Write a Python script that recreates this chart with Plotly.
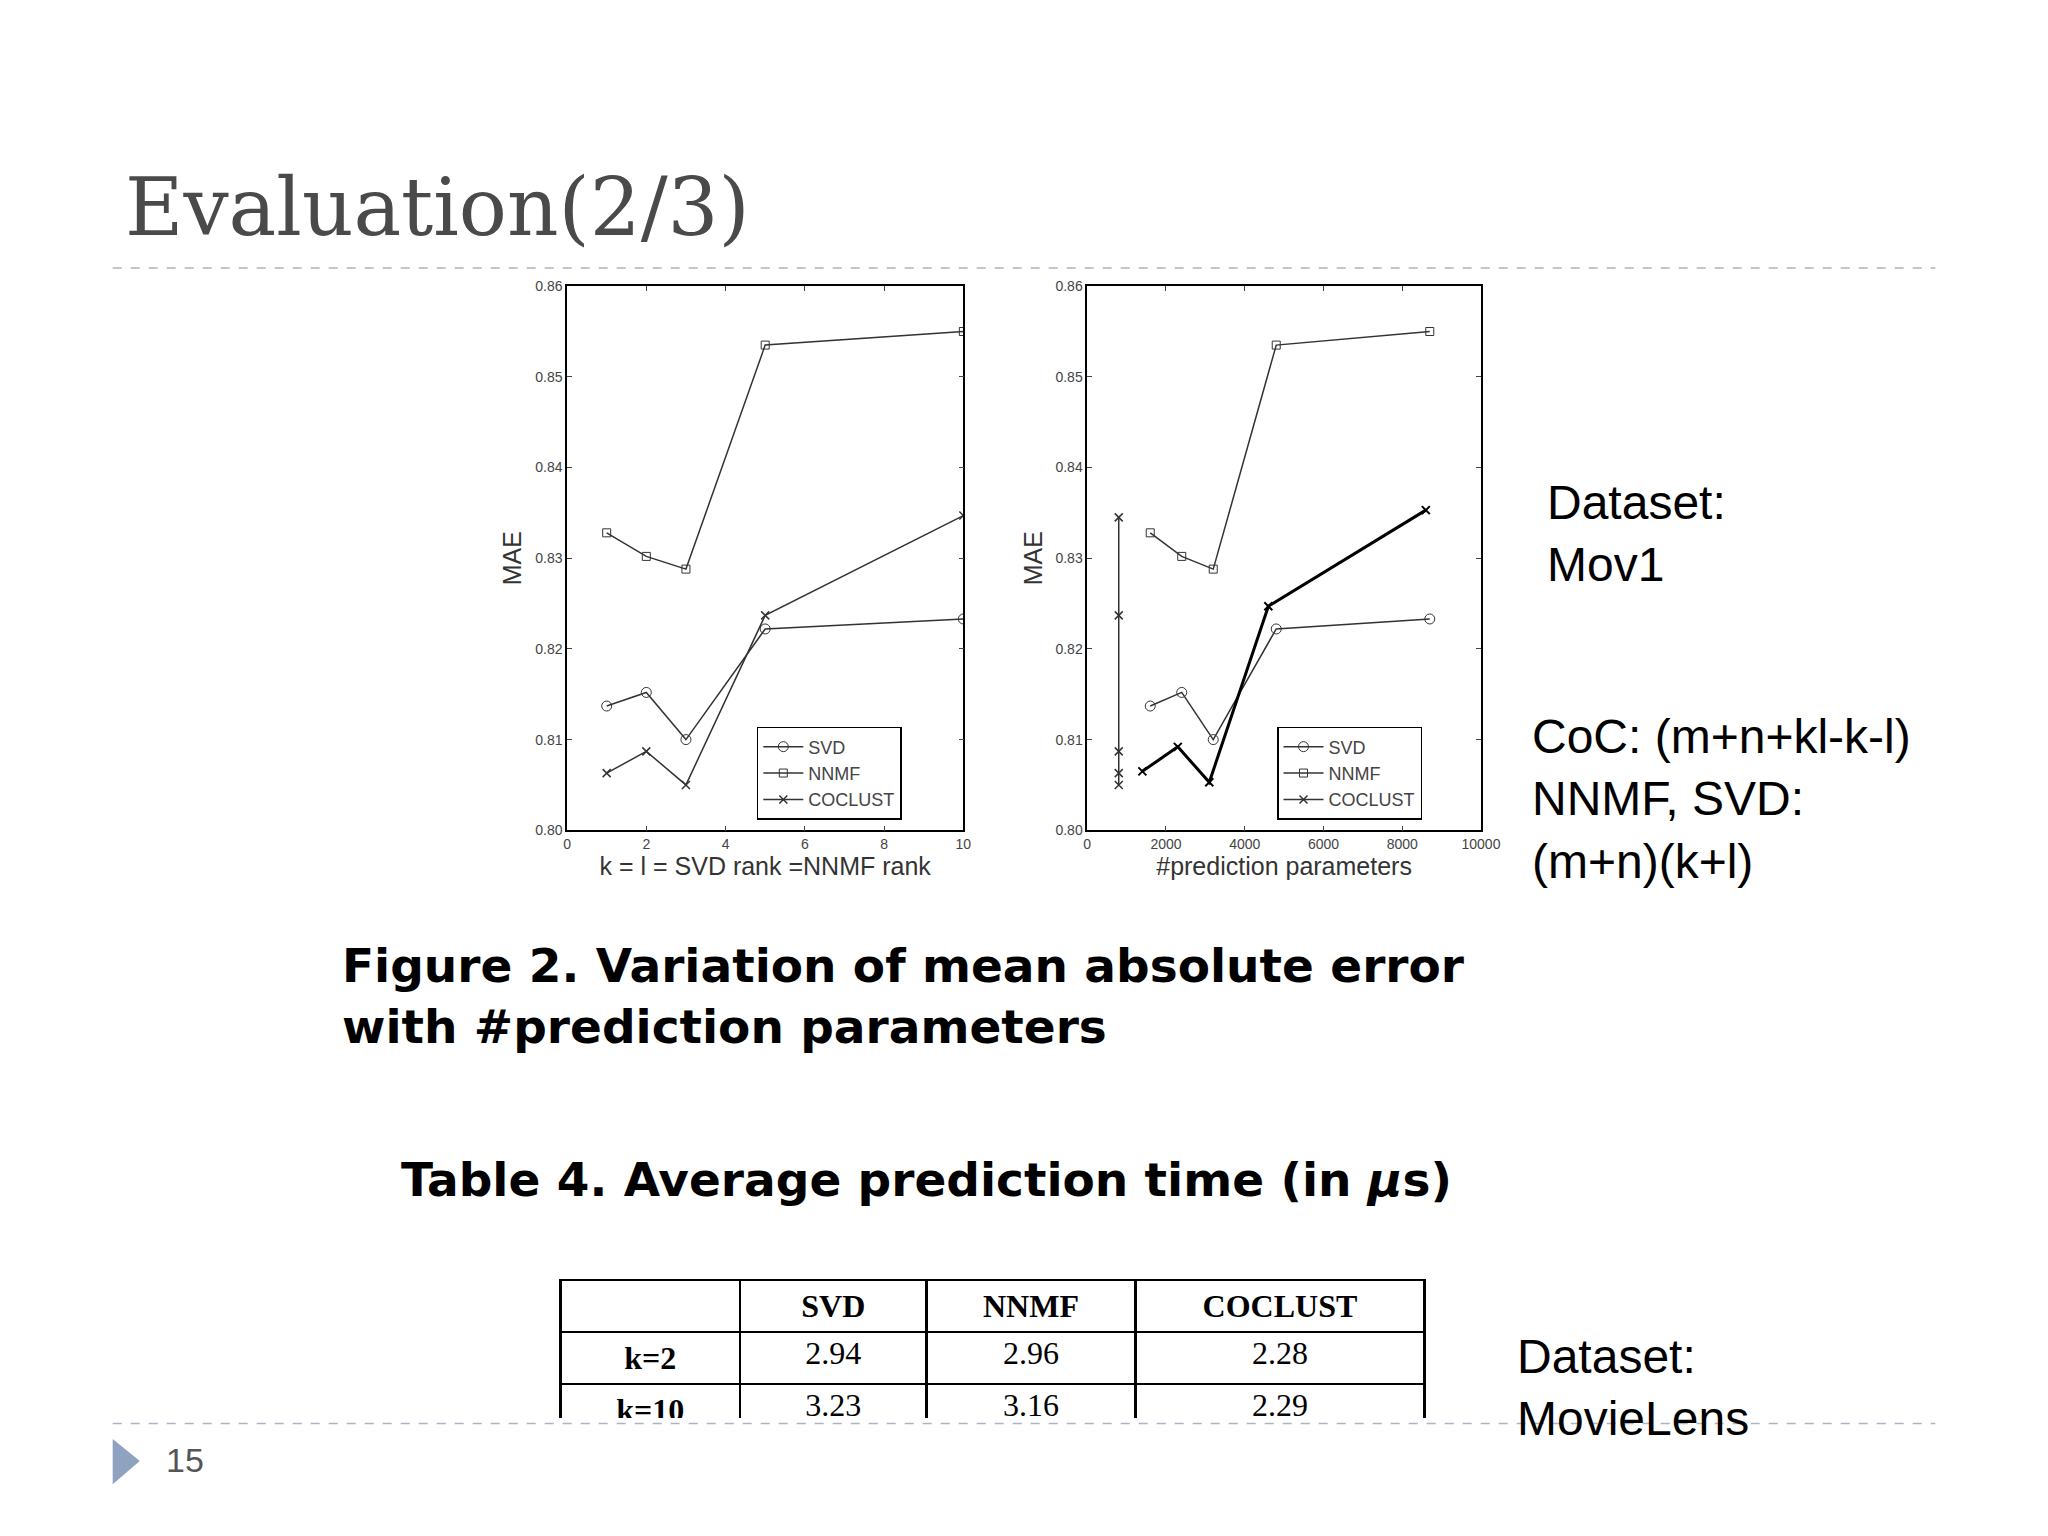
import plotly.graph_objects as go

# left panel: x = rank k = l
rank = [1, 2, 3, 5, 10]
svd_mae = [0.8137, 0.8152, 0.8100, 0.8222, 0.8233]
nnmf_mae = [0.8328, 0.8302, 0.8288, 0.8535, 0.8550]
coclust_mae = [0.8063, 0.8087, 0.8050, 0.8237, 0.8347]

# right panel: x = #prediction parameters
svd_params = [1600, 2400, 3200, 4800, 8700]
coclust_params = [1400, 2300, 3100, 4600, 8600]
coclust_params_small = [800, 800, 800, 800, 800]
coclust_mae_small = [0.8345, 0.8237, 0.8087, 0.8063, 0.8050]
coclust_mae_right = [0.8065, 0.8092, 0.8053, 0.8247, 0.8353]

table_rows = ["k=2", "k=10"]
table_svd = ["2.94", "3.23"]
table_nnmf = ["2.96", "3.16"]
table_coclust = ["2.28", "2.29"]

W, H = 1568, 1176  # layout measured on this grid, scaled to paper


def px(x):
    return x / W


def py(y):
    return 1 - y / H


line = dict(color="#333333", width=1.5)
fig = go.Figure()

for xa, ya, lg, xs in [("x", "y", "legend", rank), ("x2", "y2", "legend2", svd_params)]:
    fig.add_trace(go.Scatter(x=xs, y=svd_mae, name="SVD", mode="lines+markers", line=line,
                             marker=dict(symbol="circle-open", size=10, color="#333"),
                             xaxis=xa, yaxis=ya, legend=lg))
    fig.add_trace(go.Scatter(x=xs, y=nnmf_mae, name="NNMF", mode="lines+markers", line=line,
                             marker=dict(symbol="square-open", size=8, color="#333"),
                             xaxis=xa, yaxis=ya, legend=lg))

fig.add_trace(go.Scatter(x=rank, y=coclust_mae, name="COCLUST", mode="lines+markers", line=line,
                         marker=dict(symbol="x-thin-open", size=8, color="#333", line=dict(width=1.5)),
                         xaxis="x", yaxis="y", legend="legend"))
fig.add_trace(go.Scatter(x=coclust_params_small, y=coclust_mae_small, name="COCLUST", mode="lines+markers",
                         line=line,
                         marker=dict(symbol="x-thin-open", size=8, color="#333", line=dict(width=1.5)),
                         xaxis="x2", yaxis="y2", legend="legend2"))
fig.add_trace(go.Scatter(x=coclust_params, y=coclust_mae_right, mode="lines+markers", showlegend=False,
                         line=dict(color="black", width=3),
                         marker=dict(symbol="x-thin-open", size=8, color="black", line=dict(width=2)),
                         xaxis="x2", yaxis="y2"))

ax = dict(showline=True, linecolor="black", linewidth=1.5, mirror="ticks", ticks="inside",
          ticklen=5, showgrid=False, zeroline=False, tickfont=dict(size=14, color="#444"),
          title_font=dict(size=25, color="#333"), tickformat="d")
fig.update_layout(
    font=dict(family="Liberation Sans"),
    xaxis=dict(ax, domain=[px(430), px(737)], range=[0, 10], dtick=2, title_text="k = l = SVD rank =NNMF rank",
               title_standoff=2),
    yaxis=dict(ax, domain=[py(630), py(209)], range=[0.80, 0.86], dtick=0.01, title_text="MAE",
               title_standoff=6, tickformat=".2f"),
    xaxis2=dict(ax, domain=[px(833), px(1138)], range=[0, 10000], dtick=2000, anchor="y2",
                title_text="#prediction parameters", title_standoff=2),
    yaxis2=dict(ax, domain=[py(630), py(209)], range=[0.80, 0.86], dtick=0.01, anchor="x2",
                title_text="MAE", title_standoff=6, tickformat=".2f"),
)

leg = dict(bgcolor="white", bordercolor="black", borderwidth=1.5, font=dict(size=18, color="#444"),
           xanchor="left", yanchor="bottom", tracegroupgap=0, itemwidth=40)
fig.update_layout(
    legend=dict(leg, x=px(577), y=py(622)),
    legend2=dict(leg, x=px(980), y=py(622)),
)

font = "Liberation Sans"
notes = [
    (px(86), py(148), "Evaluation(2/3)", 80, "DejaVu Serif", "#4a4a4a", "left"),
    (px(1188), py(400), "Dataset:<br>Mov1", 48, font, "black", "left"),
    (px(1176), py(606), "CoC: (m+n+kl-k-l)<br>NNMF, SVD:<br>(m+n)(k+l)", 48, font, "black", "left"),
    (px(1164), py(1061), "Dataset:<br>MovieLens", 48, font, "black", "left"),
    (px(118), py(1117), "15", 34, font, "#555", "left"),
    (px(254), py(758), "<b>Figure 2. Variation of mean absolute error<br>with #prediction parameters</b>", 47,
     "DejaVu Sans", "black", "left"),
    (px(300), py(900), "<b>Table 4. Average prediction time (in <i>μ</i>s)</b>", 47, "DejaVu Sans", "black", "left"),
]
for x, y, t, s, f, c, a in notes:
    fig.add_annotation(x=x, y=y, xref="paper", yref="paper", text=t, showarrow=False, xanchor=a,
                       yanchor="middle", align="left", font=dict(size=s, family=f, color=c))

for y in (195, 1089):
    fig.add_shape(type="line", xref="paper", yref="paper", x0=px(78), x1=px(1490), y0=py(y), y1=py(y),
                  line=dict(color="#aab4c4", width=1.5, dash="dash"))
fig.add_shape(type="path", xref="paper", yref="paper",
              path=f"M {px(78)} {py(1101)} L {px(99)} {py(1118)} L {px(78)} {py(1136)} Z",
              fillcolor="#8fa2bf", line=dict(width=0))

fig.add_trace(go.Table(
    domain=dict(x=[px(425), px(1095)], y=[py(1085), py(978)]),
    columnwidth=[140, 146, 163, 226],
    header=dict(values=["", "<b>SVD</b>", "<b>NNMF</b>", "<b>COCLUST</b>"], height=38,
                line=dict(color="black", width=2.5), fill_color="white",
                font=dict(family="Liberation Serif", size=32, color="black"), align="center"),
    cells=dict(values=[["<b>%s</b>" % r for r in table_rows], table_svd, table_nnmf, table_coclust], height=38,
               line=dict(color="black", width=2.5), fill_color="white",
               font=dict(family="Liberation Serif", size=32, color="black"), align="center"),
))

fig.update_layout(width=2048, height=1536, paper_bgcolor="white", plot_bgcolor="white",
                  margin=dict(l=0, r=0, t=0, b=0))
fig.write_html("out.html")
